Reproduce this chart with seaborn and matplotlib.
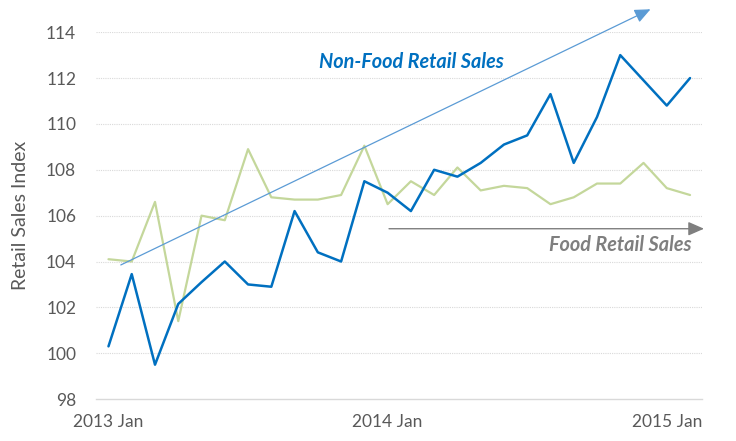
import numpy as np
import pandas as pd
import matplotlib
matplotlib.use("Agg")
import matplotlib.pyplot as plt
import seaborn as sns

# Monthly index values, 2013 Jan .. 2015 Feb
months = [f"{y} {m}" for y in (2013, 2014) for m in
          ["Jan", "Feb", "Mar", "Apr", "May", "Jun", "Jul", "Aug", "Sep", "Oct", "Nov", "Dec"]] + ["2015 Jan", "2015 Feb"]
non_food = [100.3, 103.45, 99.5, 102.15, 103.1, 104.0, 103.0, 102.9, 106.2, 104.4, 104.0, 107.5,
            107.0, 106.2, 108.0, 107.7, 108.3, 109.1, 109.5, 111.3, 108.3, 110.3, 113.0, 111.9,
            110.8, 112.0]
food = [104.1, 104.0, 106.6, 101.4, 106.0, 105.8, 108.9, 106.8, 106.7, 106.7, 106.9, 109.05,
        106.5, 107.5, 106.9, 108.1, 107.1, 107.3, 107.2, 106.5, 106.8, 107.4, 107.4, 108.3,
        107.2, 106.9]
tick_labels = ["2013 Jan", "2014 Jan", "2015 Jan"]
y_ticks = [98, 100, 102, 104, 106, 108, 110, 112, 114]

BLUE = "#0070C0"
GREEN = "#C4D79B"
ARROW_BLUE = "#5B9BD5"
GREY = "#7F7F7F"
TEXT = "#595959"

df = pd.DataFrame({"pos": np.arange(len(months)), "month": months,
                   "Non-Food": non_food, "Food": food})

sns.set_theme(style="white")
plt.rcParams["font.family"] = ["Lato", "DejaVu Sans"]

fig = plt.figure(figsize=(7.36, 4.41), dpi=100)
ax = fig.add_axes([0.130, 0.095, 0.824, 0.832])

sns.lineplot(data=df, x="pos", y="Food", color=GREEN, linewidth=1.6, ax=ax)
sns.lineplot(data=df, x="pos", y="Non-Food", color=BLUE, linewidth=1.8, ax=ax)

ax.set_ylim(98, 114)
ax.set_xlim(-0.55, 25.52)
ax.set_yticks(y_ticks)
ax.set_yticklabels([str(v) for v in y_ticks], color=TEXT, fontsize=12.5)
tick_pos = [months.index(t) for t in tick_labels]
ax.set_xticks(tick_pos)
ax.set_xticklabels(tick_labels, color=TEXT, fontsize=12.5)
ax.tick_params(axis="y", length=0, pad=14)
ax.tick_params(axis="x", length=0, pad=11)

for v in y_ticks[1:]:
    ax.axhline(v, color="#D9D9D9", linewidth=0.8, linestyle=(0, (1, 1)), zorder=0)

for s in ["left", "right", "top"]:
    ax.spines[s].set_visible(False)
ax.spines["bottom"].set_color("#D9D9D9")
ax.spines["bottom"].set_linewidth(1.0)

ax.set_xlabel("")
ax.set_ylabel("Retail Sales Index", color=TEXT, fontsize=14, labelpad=12)

# trend arrows
ax.annotate("", xy=(23.3, 115.0), xytext=(0.53, 103.85),
            arrowprops=dict(arrowstyle="-|>,head_length=0.8,head_width=0.35",
                            color=ARROW_BLUE, lw=0.9, shrinkA=0, shrinkB=0),
            annotation_clip=False)
ax.annotate("", xy=(25.6, 105.43), xytext=(12.06, 105.43),
            arrowprops=dict(arrowstyle="-|>,head_length=0.8,head_width=0.35",
                            color=GREY, lw=1.0, shrinkA=0, shrinkB=0),
            annotation_clip=False)

ax.text(13.0, 112.72, "Non-Food Retail Sales", color=BLUE, fontsize=14.3,
        fontweight="bold", fontstyle="italic", ha="center", va="center")
ax.text(25.08, 104.72, "Food Retail Sales", color=GREY, fontsize=14.3,
        fontweight="bold", fontstyle="italic", ha="right", va="center")

fig.savefig("out.png", dpi=100)
